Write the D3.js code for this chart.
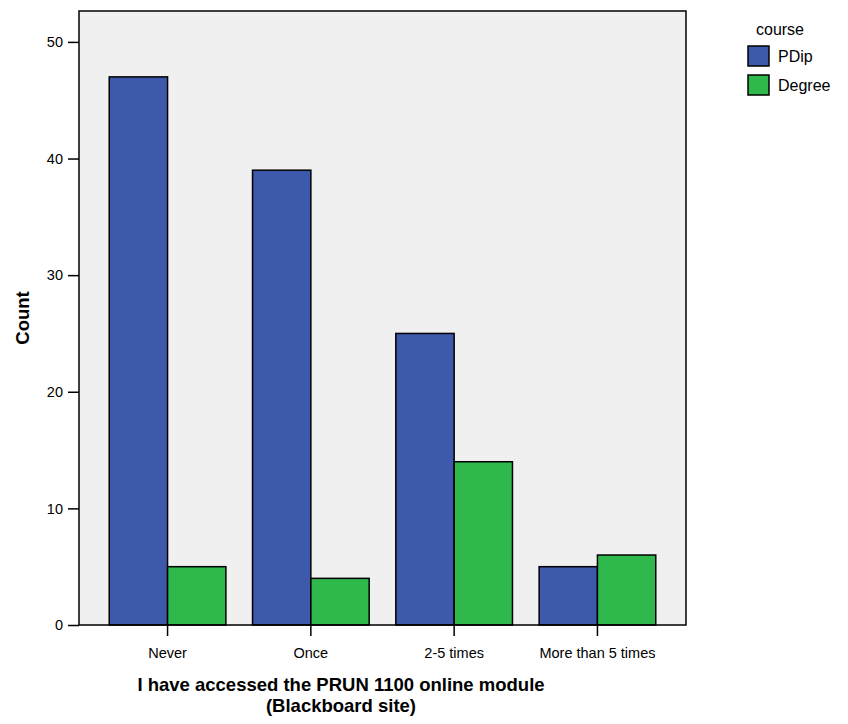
<!DOCTYPE html>
<html>
<head>
<meta charset="utf-8">
<script src="https://cdn.jsdelivr.net/npm/d3@7"></script>
<style>
  body { margin: 0; background: #fff; }
  svg { font-family: Arial, "Liberation Sans", sans-serif; }
</style>
</head>
<body>
<svg id="chart"></svg>
<script>
var categories = ["Never", "Once", "2-5 times", "More than 5 times"];
var seriesNames = ["PDip", "Degree"];
var pdipValues = [47, 39, 25, 5];
var degreeValues = [5, 4, 14, 6];
var yTicks = [0, 10, 20, 30, 40, 50];
var colors = ["#3e58ab", "#2fb84b"];

var svgW = 848, svgH = 724;
var plotL = 79, plotR = 686, plotT = 11, plotB = 625;

var svg = d3.select("#chart").attr("width", svgW).attr("height", svgH);

var y = d3.scaleLinear().domain([0, 52.65]).range([plotB, plotT]);
var x = d3.scaleBand().domain(categories).range([plotL, plotR])
  .paddingInner(0.186).paddingOuter(0.211);
var xSub = d3.scaleBand().domain(seriesNames).range([0, x.bandwidth()]);

// plot background
svg.append("rect")
  .attr("x", plotL).attr("y", plotT)
  .attr("width", plotR - plotL).attr("height", plotB - plotT)
  .attr("fill", "#f0f0f0");

var rows = categories.map(function (c, i) {
  return { cat: c, vals: [pdipValues[i], degreeValues[i]] };
});

var groups = svg.selectAll("g.grp").data(rows).enter()
  .append("g").attr("class", "grp")
  .attr("transform", function (d) { return "translate(" + x(d.cat) + ",0)"; });

groups.selectAll("rect").data(function (d) {
    return d.vals.map(function (v, j) { return { s: seriesNames[j], v: v, j: j }; });
  }).enter().append("rect")
  .attr("x", function (d) { return xSub(d.s); })
  .attr("y", function (d) { return y(d.v); })
  .attr("width", xSub.bandwidth())
  .attr("height", function (d) { return y(0) - y(d.v); })
  .attr("fill", function (d) { return colors[d.j]; })
  .attr("stroke", "#000").attr("stroke-width", 1.5);

// frame
svg.append("rect")
  .attr("x", plotL).attr("y", plotT)
  .attr("width", plotR - plotL).attr("height", plotB - plotT)
  .attr("fill", "none").attr("stroke", "#000").attr("stroke-width", 1.5);

// y axis
var yAxis = svg.append("g").attr("transform", "translate(" + plotL + ",0)")
  .call(d3.axisLeft(y).tickValues(yTicks).tickSize(11).tickPadding(5));
yAxis.select(".domain").remove();
yAxis.selectAll("line").attr("stroke", "#000").attr("stroke-width", 1.5);
yAxis.selectAll("text").attr("font-size", 14.5).attr("fill", "#000")
  .attr("font-family", "Arial, 'Liberation Sans', sans-serif");

// x axis
var xAxis = svg.append("g").attr("transform", "translate(0," + plotB + ")")
  .call(d3.axisBottom(x).tickSize(11).tickPadding(12));
xAxis.select(".domain").remove();
xAxis.selectAll("line").attr("stroke", "#000").attr("stroke-width", 1.5);
xAxis.selectAll("text").attr("font-size", 14.5).attr("fill", "#000")
  .attr("font-family", "Arial, 'Liberation Sans', sans-serif");

// axis titles
svg.append("text")
  .attr("transform", "translate(29," + ((plotT + plotB) / 2) + ") rotate(-90)")
  .attr("text-anchor", "middle")
  .attr("font-size", 18.5).attr("font-weight", "bold")
  .text("Count");

var xt = svg.append("text")
  .attr("text-anchor", "middle")
  .attr("font-size", 18.5).attr("font-weight", "bold");
xt.append("tspan").attr("x", 341).attr("y", 691).text("I have accessed the PRUN 1100 online module");
xt.append("tspan").attr("x", 341).attr("y", 712).text("(Blackboard site)");

// legend
var lg = svg.append("g");
lg.append("text").attr("x", 780).attr("y", 35).attr("text-anchor", "middle")
  .attr("font-size", 16).text("course");
var items = lg.selectAll("g.item").data(seriesNames).enter()
  .append("g").attr("class", "item")
  .attr("transform", function (d, i) { return "translate(748," + (46 + i * 29) + ")"; });
items.append("rect").attr("width", 21).attr("height", 20)
  .attr("fill", function (d, i) { return colors[i]; })
  .attr("stroke", "#000").attr("stroke-width", 1.5);
items.append("text").attr("x", 30).attr("y", 16).attr("font-size", 16)
  .text(function (d) { return d; });
</script>
</body>
</html>
